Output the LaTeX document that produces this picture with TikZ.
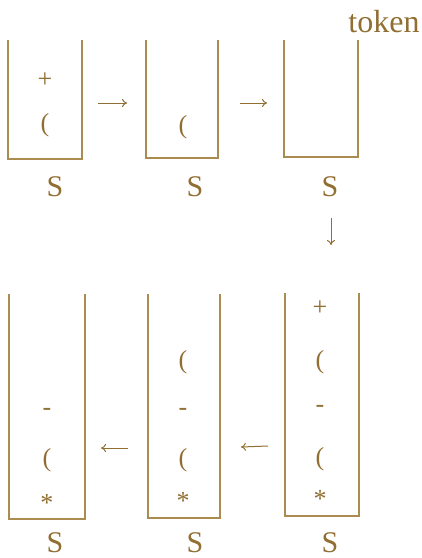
\documentclass[tikz,border=0pt]{standalone}
\usepackage{fontspec}
\setmainfont{Liberation Serif}
\usetikzlibrary{arrows.meta}
\definecolor{linec}{RGB}{170,140,80}
\definecolor{textc}{RGB}{145,110,50}
\begin{document}
\begin{tikzpicture}[x=1pt,y=1pt,
  stackbox/.style={minimum width=74pt,inner sep=0pt,outer sep=0pt},
  lbl/.style={text=textc,font=\fontsize{30}{32}\selectfont,inner sep=0pt},
  sym/.style={text=textc,font=\fontsize{26}{28}\selectfont,inner sep=0pt},
  wall/.style={draw=linec,line width=1.2pt},
  arr/.style={draw=textc,line width=1pt,-{To[length=5pt,width=8pt]}}]
\useasboundingbox (0,0) rectangle (422,-558);
% top row
\node[stackbox,minimum height=119pt] (s1) at (45,-99.5) {};
\node[stackbox,minimum width=72pt,minimum height=118pt] (s2) at (182,-99) {};
\node[stackbox,minimum height=117pt] (s3) at (321,-98.5) {};
% bottom row
\node[stackbox,minimum width=76pt,minimum height=225pt] (s4) at (47,-406.5) {};
\node[stackbox,minimum width=72pt,minimum height=224pt] (s5) at (184,-406) {};
\node[stackbox,minimum height=223pt] (s6) at (322,-404.5) {};
\foreach \s in {s1,s2,s3,s4,s5,s6}
  \draw[wall] (\s.north west) -- (\s.south west) -- (\s.south east) -- (\s.north east);
% labels
\node[lbl] (l1) at (55,-187) {S};
\node[lbl] (l2) at (195,-187) {S};
\node[lbl] (l3) at (330,-187) {S};
\node[lbl] (l4) at (55,-543) {S};
\node[lbl] (l5) at (195,-543) {S};
\node[lbl] (l6) at (330,-543) {S};
\node[lbl,font=\fontsize{32}{34}\selectfont] (tok) at (384,-22) {token};
% contents
\node[sym] (a1) at (45,-80) {+};
\node[sym] (a2) at (45,-125) {(};
\node[sym] (b1) at (183,-127) {(};
\node[sym] (c1) at (320,-308) {+};
\node[sym] (c2) at (320,-362) {(};
\node[sym] (c3) at (320,-409) {-};
\node[sym] (c4) at (320,-459) {(};
\node[sym] (c5) at (320,-499) {*};
\node[sym] (d1) at (183,-362) {(};
\node[sym] (d2) at (183,-412) {-};
\node[sym] (d3) at (183,-460) {(};
\node[sym] (d4) at (183,-501) {*};
\node[sym] (e1) at (47,-412) {-};
\node[sym] (e2) at (47,-460) {(};
\node[sym] (e3) at (47,-503) {*};
% arrows
\draw[arr] ([xshift=16pt,yshift=-3.5pt]s1.east) -- ([xshift=-19pt,yshift=-4pt]s2.west);
\draw[arr] ([xshift=22pt,yshift=-4pt]s2.east) -- ([xshift=-17pt,yshift=-4.5pt]s3.west);
\draw[arr] ([xshift=1pt,yshift=-31pt]l3.center) -- ([xshift=9pt,yshift=48pt]s6.north);
\draw[arr] ([xshift=-17pt,yshift=-41.5pt]s6.west) -- ([xshift=21pt,yshift=-41pt]s5.east);
\draw[arr] ([xshift=-20pt,yshift=-42pt]s5.west) -- ([xshift=16pt,yshift=-41.5pt]s4.east);
\end{tikzpicture}
\end{document}
